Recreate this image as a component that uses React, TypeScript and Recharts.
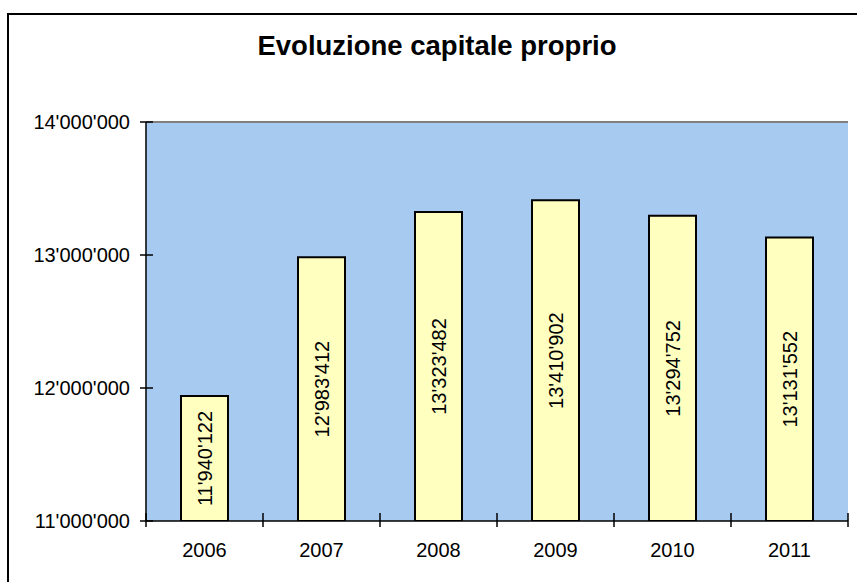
import React from 'react';
import { BarChart, Bar, XAxis, YAxis, CartesianGrid, ReferenceLine, LabelList } from 'recharts';

const years = ['2006', '2007', '2008', '2009', '2010', '2011'];
const capitale = [11940122, 12983412, 13323482, 13410902, 13294752, 13131552];
const yTicks = [11000000, 12000000, 13000000, 14000000];

const data = years.map((y, i) => ({ year: y, value: capitale[i] }));

const FONT = '"Liberation Sans", Arial, Helvetica, sans-serif';
const PLOT_BG = '#a6caf0';
const BAR_FILL = '#ffffc0';

const fmt = (v: number) => String(Math.round(v)).replace(/\B(?=(\d{3})+(?!\d))/g, "'");

// y tick: label on the left, tick mark crossing the axis
const YTick = (p: any) => {
  const ax = p.x + 16;
  return (
    <g>
      <line x1={ax - 6} x2={ax + 7} y1={p.y} y2={p.y} stroke="#000" strokeWidth={1.5} />
      <text x={p.x} y={p.y} dy="0.355em" textAnchor="end" fontSize={20} fill="#000">
        {fmt(p.payload.value)}
      </text>
    </g>
  );
};

// category label plus boundary marks crossing the x axis
const XTick = (p: any) => {
  const axisY = p.y - 22;
  const band = Number(p.width) / p.visibleTicksCount;
  const left = p.x - band / 2;
  const right = p.x + band / 2;
  const last = p.index === p.visibleTicksCount - 1;
  return (
    <g>
      <line x1={left} x2={left} y1={axisY - 8} y2={axisY + 6} stroke="#000" strokeWidth={1.5} />
      {last && <line x1={right} x2={right} y1={axisY - 8} y2={axisY + 6} stroke="#000" strokeWidth={1.5} />}
      <text x={p.x} y={p.y} dy="0.71em" textAnchor="middle" fontSize={20} fill="#000">
        {p.payload.value}
      </text>
    </g>
  );
};

export default function App() {
  return (
    <div style={{ position: 'fixed', left: 0, top: 0, width: 857, height: 582, overflow: 'hidden', background: '#fff', fontFamily: FONT }}>
      <div style={{ position: 'absolute', left: 7, top: 13, width: 900, height: 700, borderLeft: '2px solid #000', borderTop: '2px solid #000' }} />
      <div style={{ position: 'absolute', left: 0, top: 30, width: 874, textAlign: 'center', fontSize: 27.5, fontWeight: 'bold', color: '#000' }}>
        Evoluzione capitale proprio
      </div>
      <div style={{ position: 'absolute', left: 0, top: 0 }}>
        <BarChart width={857} height={582} data={data} margin={{ top: 122, right: 9, left: 0, bottom: 21 }}>
          <CartesianGrid horizontal={false} vertical={false} fill={PLOT_BG} />
          <XAxis
            dataKey="year"
            height={40}
            axisLine={{ stroke: '#000', strokeWidth: 1.5 }}
            tickLine={false}
            tickSize={0}
            tickMargin={22}
            interval={0}
            tick={<XTick />}
          />
          <YAxis
            yAxisId="left"
            domain={[11000000, 14000000]}
            ticks={yTicks}
            width={146}
            axisLine={{ stroke: '#000', strokeWidth: 1.5 }}
            tickLine={false}
            tickSize={0}
            tickMargin={16}
            tick={<YTick />}
            allowDataOverflow
          />
          <YAxis
            yAxisId="right"
            orientation="right"
            domain={[11000000, 14000000]}
            width={0}
            axisLine={{ stroke: '#808080', strokeWidth: 2 }}
            tick={false}
            tickLine={false}
          />
          <ReferenceLine yAxisId="left" y={14000000} stroke="#808080" strokeWidth={2} />
          <Bar
            yAxisId="left"
            dataKey="value"
            fill={BAR_FILL}
            stroke="#000"
            strokeWidth={2}
            barSize={47}
            isAnimationActive={false}
          >
            <LabelList
              dataKey="value"
              position="center"
              angle={-90}
              formatter={(v: any) => fmt(Number(v))}
              style={{ fontSize: 20, fill: '#000' }}
            />
          </Bar>
        </BarChart>
      </div>
    </div>
  );
}
